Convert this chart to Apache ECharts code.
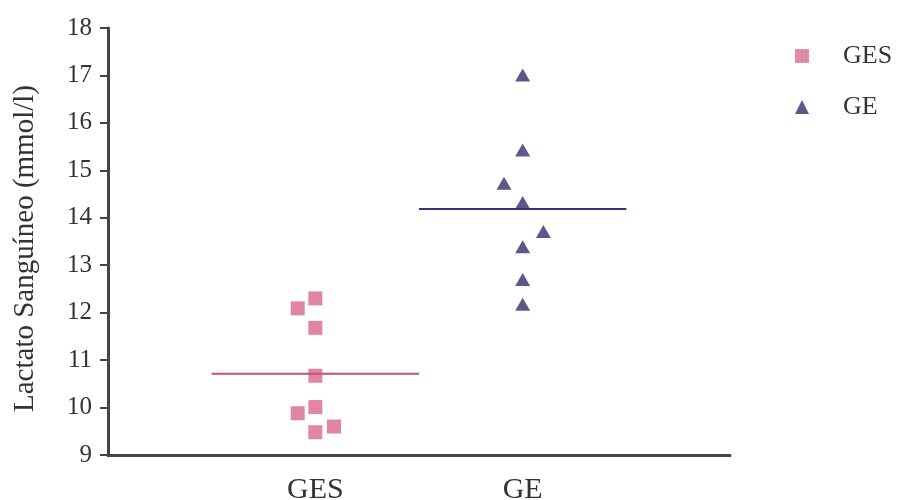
<!DOCTYPE html>
<html>
<head>
<meta charset="utf-8">
<script src="https://cdn.jsdelivr.net/npm/echarts@6/dist/echarts.min.js"></script>
<style>
  html, body { margin: 0; padding: 0; background: #fff; }
  #chart { width: 898px; height: 500px; }
</style>
</head>
<body>
<div id="chart"></div>
<script>
// Group names and positions on the x scale
const groups = ['GES', 'GE'];
const groupPos = [1, 2];

// Blood lactate per subject (mmol/l) with a small horizontal offset for each point
const gesValues = [12.09, 12.30, 11.68, 10.67, 9.88, 10.01, 9.48, 9.60];
const gesOffsets = [-0.085, 0, 0, 0, -0.085, 0, 0, 0.09];
const geValues = [17.01, 15.43, 14.73, 14.32, 13.71, 13.39, 12.70, 12.18];
const geOffsets = [0, 0, -0.09, 0, 0.1, 0, 0, 0];

// y axis
const yMin = 9, yMax = 18, yStep = 1;

const mean = a => a.reduce((s, v) => s + v, 0) / a.length;
const points = (vals, offs, x) => vals.map((v, i) => [x + offs[i], v]);
const meanLine = (vals, x) => [[x - 0.5, mean(vals)], [x + 0.5, mean(vals)]];

const serif = '"Liberation Serif", "Times New Roman", serif';
const ink = '#333333';
const pink = '#d9668f';
const navy = '#30306e';

const chart = echarts.init(document.getElementById('chart'));
chart.setOption({
  animation: false,
  backgroundColor: '#fff',
  textStyle: { fontFamily: serif },
  grid: { left: 108, right: 168, top: 28, bottom: 45, containLabel: false, outerBoundsMode: 'none' },
  legend: {
    orient: 'vertical',
    left: 790,
    top: 38,
    itemWidth: 14,
    itemHeight: 14,
    itemGap: 25,
    data: groups,
    textStyle: { fontFamily: serif, fontSize: 26, color: ink, padding: [0, 0, 0, 29] }
  },
  xAxis: {
    type: 'value',
    min: 0,
    max: 3,
    interval: 1,
    splitLine: { show: false },
    axisTick: { show: false },
    axisLine: { lineStyle: { color: '#444', width: 3 } },
    axisLabel: {
      fontFamily: serif,
      fontSize: 30,
      color: ink,
      margin: 20,
      formatter: v => { const i = groupPos.indexOf(v); return i >= 0 ? groups[i] : ''; }
    }
  },
  yAxis: {
    type: 'value',
    min: yMin,
    max: yMax,
    interval: yStep,
    name: 'Lactato Sanguíneo (mmol/l)',
    nameLocation: 'middle',
    nameGap: 68,
    nameTextStyle: { fontFamily: serif, fontSize: 29, color: ink, padding: [0, 14, 0, 0] },
    splitLine: { show: false },
    axisLine: { show: true, lineStyle: { color: '#444', width: 3 } },
    axisTick: { show: true, length: 8, lineStyle: { color: '#444', width: 2 } },
    axisLabel: { fontFamily: serif, fontSize: 25, color: ink, margin: 16 }
  },
  series: [
    {
      name: 'GES',
      type: 'scatter',
      symbol: 'rect',
      symbolSize: 14,
      itemStyle: {
        color: pink,
        decal: { symbol: 'rect', symbolSize: 0.6, dashArrayX: [[2, 2]], dashArrayY: [2, 2], color: 'rgba(255,255,255,0.55)' }
      },
      data: points(gesValues, gesOffsets, groupPos[0])
    },
    {
      name: 'GE',
      type: 'scatter',
      symbol: 'triangle',
      symbolSize: [15, 13],
      itemStyle: { color: navy },
      data: points(geValues, geOffsets, groupPos[1])
    },
    {
      type: 'line',
      data: meanLine(gesValues, groupPos[0]),
      symbol: 'none',
      silent: true,
      lineStyle: { color: '#c84f7c', width: 2 }
    },
    {
      type: 'line',
      data: meanLine(geValues, groupPos[1]),
      symbol: 'none',
      silent: true,
      lineStyle: { color: '#34347e', width: 2 }
    }
  ]
});
</script>
</body>
</html>
